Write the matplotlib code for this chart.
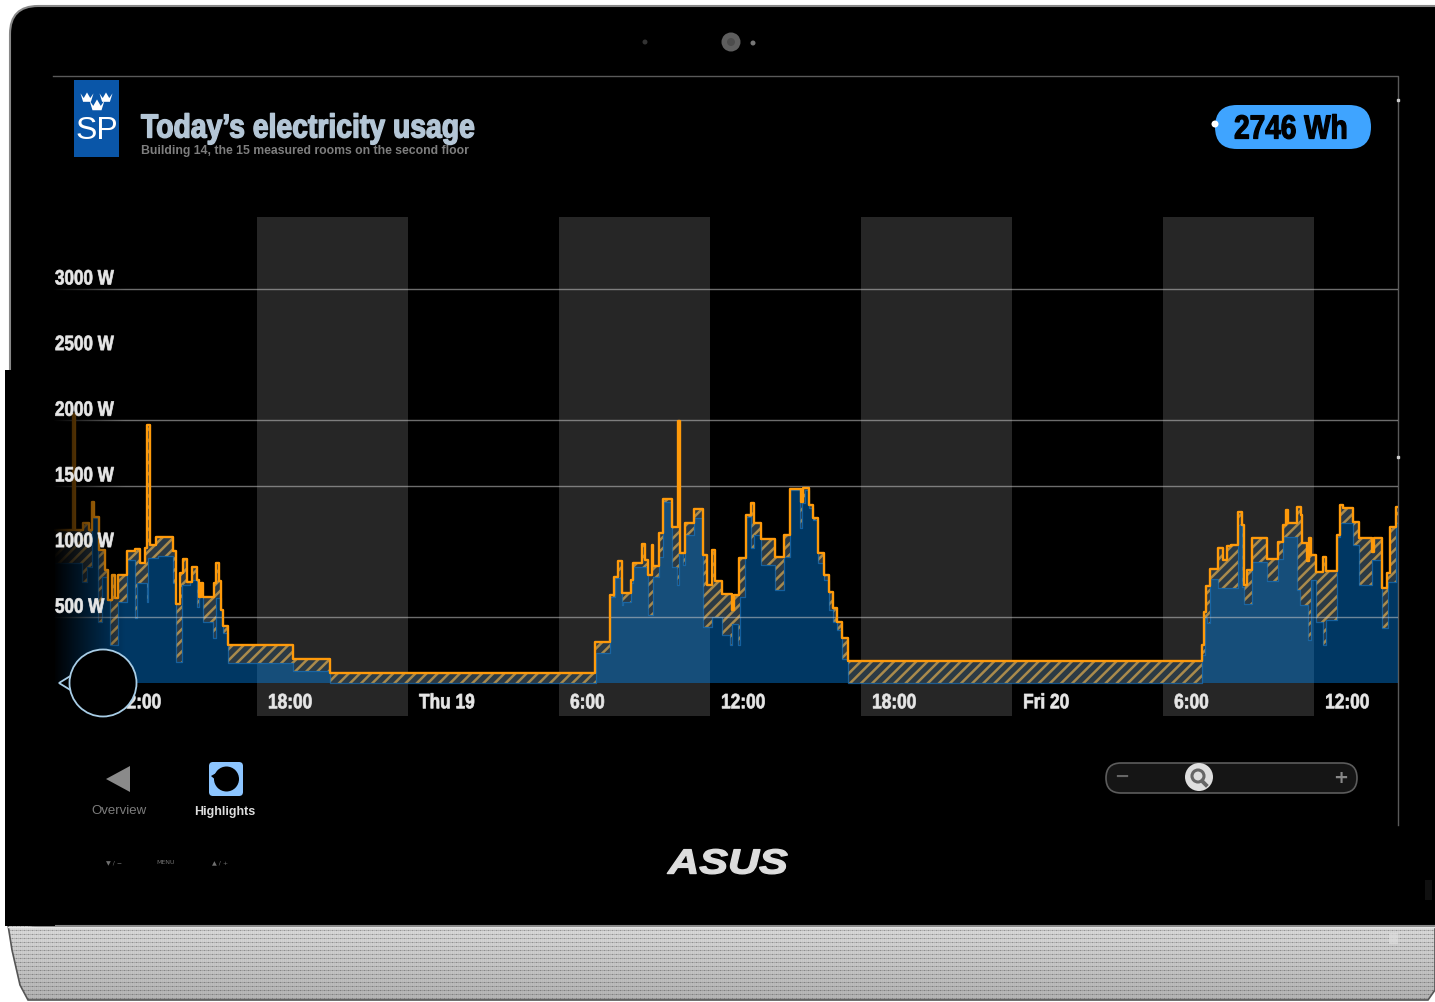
import numpy as np
import matplotlib
matplotlib.use("Agg")
import matplotlib.pyplot as plt
from matplotlib.patches import Circle, FancyBboxPatch, Polygon, Rectangle
from matplotlib.patheffects import AbstractPathEffect
from matplotlib.transforms import Affine2D

W_PX, H_PX = 1435, 1002
SANS = ["Liberation Sans", "DejaVu Sans"]

# hours since Wednesday 00:00, where a step starts, and watts from there on
total_hours = [
    9.97, 10.69, 10.77, 11.09, 11.32, 11.44, 11.52, 11.72, 11.96, 12.08,
    12.24, 12.36, 12.48, 12.83, 13.15, 13.35, 13.55, 13.64, 13.73, 13.99,
    14.66, 14.78, 14.94, 15.06, 15.22, 15.42, 15.62, 15.69, 15.77, 15.85,
    16.29, 16.37, 16.47, 16.57, 16.65, 16.85, 19.43, 20.90, 31.43, 32.02,
    32.18, 32.34, 32.50, 32.86, 32.94, 33.30, 33.41, 33.53, 33.69, 33.75,
    33.97, 34.13, 34.49, 34.73, 34.81, 35.00, 35.36, 35.72, 35.88, 36.08,
    36.20, 36.47, 36.87, 36.93, 37.15, 37.43, 37.63, 37.75, 38.02, 38.58,
    38.94, 39.18, 39.61, 39.69, 39.93, 40.09, 40.29, 40.53, 40.72, 40.88,
    41.04, 41.24, 41.48, 55.54, 55.62, 55.70, 55.86, 56.18, 56.38, 56.54,
    56.70, 56.97, 57.13, 57.21, 57.33, 57.53, 58.13, 58.56, 58.76, 58.90,
    58.96, 59.32, 59.48, 59.52, 59.72, 59.80, 59.88, 60.07, 60.35, 60.47,
    60.91, 61.03, 61.15, 61.54, 61.78, 62.30, 62.36, 62.70, 62.90, 63.02,
    63.25, 63.33,
]
total_w = [
    1165, 2050, 1165, 1219, 1165, 1378, 1264, 1013, 861, 632,
    823, 647, 823, 1005, 1021, 914, 1028, 1965, 1051, 1112,
    1005, 602, 838, 944, 769, 883, 784, 655, 762, 655,
    762, 914, 777, 556, 434, 289, 183, 76, 312, 670,
    807, 929, 685, 784, 914, 1059, 937, 823, 1051, 891,
    1142, 1401, 1188, 1995, 990, 1219, 1325, 975, 746, 1013,
    777, 678, 556, 670, 952, 1279, 1371, 1219, 1097, 960,
    1127, 1477, 1378, 1485, 1356, 1257, 990, 823, 693, 571,
    465, 343, 168, 289, 541, 739, 868, 1028, 937, 1043,
    1051, 1302, 1203, 746, 861, 1104, 944, 1074, 1203, 1318,
    1219, 1340, 1279, 1066, 929, 1104, 975, 845, 960, 853,
    1127, 1356, 1333, 1226, 1104, 998, 1104, 724, 838, 1188,
    1340, 1340,
]
base_hours = [
    10.09, 11.05, 11.25, 11.44, 11.68, 11.84, 12.04, 12.16, 12.48, 12.83,
    13.15, 13.23, 13.63, 13.67, 14.07, 14.66, 14.78, 15.02, 15.34, 15.62,
    15.69, 15.85, 16.25, 16.37, 16.61, 16.65, 16.85, 19.43, 20.90, 31.47,
    32.02, 32.22, 32.50, 32.54, 32.86, 32.94, 33.53, 33.73, 33.97, 34.13,
    34.49, 34.69, 34.77, 34.92, 35.00, 35.36, 35.72, 36.08, 36.47, 36.79,
    36.87, 37.11, 37.19, 37.39, 37.63, 37.75, 38.02, 38.58, 38.94, 39.18,
    39.57, 39.65, 39.77, 39.93, 40.09, 40.29, 40.53, 40.72, 40.88, 41.04,
    41.24, 41.48, 55.54, 55.66, 55.74, 55.86, 56.18, 56.97, 57.13, 57.21,
    57.53, 58.13, 58.56, 58.76, 59.32, 59.44, 59.76, 59.88, 60.07, 60.35,
    60.47, 60.91, 61.03, 61.54, 61.78, 62.30, 62.70, 62.94, 63.25, 63.33,
]
base_w = [
    914, 769, 883, 1257, 465, 807, 632, 289, 617, 937,
    495, 762, 617, 952, 967, 762, 160, 746, 784, 579,
    655, 465, 343, 647, 442, 381, 152, 91, 0, 228,
    655, 800, 594, 617, 762, 883, 518, 807, 960, 1378,
    883, 746, 1089, 899, 1127, 1257, 426, 503, 366, 289,
    449, 289, 655, 1264, 1028, 1127, 899, 708, 960, 1470,
    1180, 1371, 1470, 1333, 1241, 914, 784, 556, 465, 404,
    183, 0, 213, 495, 457, 792, 724, 1203, 731, 602,
    922, 777, 944, 1112, 708, 594, 327, 784, 465, 289,
    480, 1112, 1219, 1051, 746, 937, 419, 769, 1219, 1219,
]
night_start = [18, 30, 42, 54]
night_end = [24, 36, 48, 60]
grid_w = [500, 1500, 2000, 3000]
y_ticks = [500, 1000, 1500, 2000, 2500, 3000]
y_labels = ["500 W", "1000 W", "1500 W", "2000 W", "2500 W", "3000 W"]
x_ticks = [12, 18, 24, 30, 36, 42, 48, 54, 60]
x_labels = ["12:00", "18:00", "Thu 19", "6:00", "12:00", "18:00", "Fri 20", "6:00", "12:00"]


class Squeeze(AbstractPathEffect):
    """Narrow (or widen) a text around an x pixel, no condensed font is installed.
    stroke thickens the letters a little, the original face is heavier."""

    def __init__(self, anchor_px, factor, stroke=0.0):
        super().__init__()
        self.anchor_px = anchor_px
        self.factor = factor
        self.stroke = stroke

    def draw_path(self, renderer, gc, tpath, affine, rgbFace=None):
        squeeze = Affine2D().translate(-self.anchor_px, 0).scale(self.factor, 1).translate(self.anchor_px, 0)
        gc0 = renderer.new_gc()
        gc0.copy_properties(gc)
        gc0.set_linewidth(self.stroke)
        if rgbFace is not None:
            gc0.set_foreground(rgbFace)
        renderer.draw_path(gc0, tpath, affine + squeeze, rgbFace)
        gc0.restore()


def step_at(hours, values, grid):
    """Value of a post-step series at each grid position."""
    idx = np.searchsorted(hours, grid, side="right") - 1
    return np.asarray(values)[np.clip(idx, 0, len(values) - 1)]


def crown(ax, cx, cy, w):
    h = w * 0.72
    pts = [(cx - w / 2, cy - h * 0.6), (cx - w / 4, cy - h * 0.1), (cx, cy - h * 0.7),
           (cx + w / 4, cy - h * 0.1), (cx + w / 2, cy - h * 0.6), (cx + w * 0.3, cy + h * 0.3),
           (cx - w * 0.3, cy + h * 0.3)]
    ax.add_patch(Polygon(pts, closed=True, fc="white", ec="none"))


def draw_device(bg):
    # speaker bar with its fine perforation, clipped to the curved outline
    rows, cols = 78, W_PX
    tex = np.linspace(0.86, 0.70, rows)[:, None] * np.ones((rows, cols))
    tex[2::4, :] *= 0.86
    tex[:, ::2] *= 0.97
    tex[2::4, ::4] *= 0.82
    outline = Polygon([(8, 925), (W_PX, 925), (W_PX, 990), (1428, 1000), (28, 1000), (20, 985), (12, 950)],
                      closed=True, fc="none", ec="#555555", lw=1.2, zorder=2)
    im = bg.imshow(tex, cmap="gray", vmin=0, vmax=1, extent=(0, W_PX, 1002, 924),
                   interpolation="nearest", aspect="auto", zorder=1)
    bg.add_patch(outline)
    im.set_clip_path(outline)
    bg.add_patch(Rectangle((1389, 933), 9, 11, fc="#dddddd", ec="none", alpha=0.7, zorder=3))

    # black bezel
    bg.add_patch(FancyBboxPatch((40, 36), W_PX, 860, boxstyle="round,pad=30,rounding_size=28",
                                fc="black", ec="#888888", lw=1.5, zorder=4))
    bg.add_patch(Rectangle((5, 370), 50, 556, fc="black", ec="none", zorder=4))
    bg.plot([8, W_PX], [926.5, 926.5], color="#e8e8e8", lw=1, zorder=3)
    bg.add_patch(Rectangle((1425, 880), 7, 20, fc="#101010", ec="none", zorder=5))

    # camera and sensors
    bg.add_patch(Circle((731, 42), 9.5, fc="#5e5e5e", ec="none", zorder=5))
    bg.add_patch(Circle((731, 42), 4, fc="#4c4c4c", ec="none", zorder=6))
    bg.add_patch(Circle((645, 42), 2.5, fc="#333333", ec="none", zorder=5))
    bg.add_patch(Circle((753, 43), 2.5, fc="#777777", ec="none", zorder=5))

    # screen frame
    bg.plot([53, 1398, 1398], [76, 76, 825], color="#5a5a5a", lw=1, zorder=5)
    bg.plot([1398, 1398], [100, 457], ls="none", marker="s", ms=1.5, color="#cccccc", zorder=5)

    bg.text(728, 864, "ASUS", color="#dddddd", fontsize=25, fontweight="bold", style="italic",
            family=SANS, ha="center", va="center", zorder=6, path_effects=[Squeeze(728, 1.24, 1.0)])
    for x, s in zip([114, 166, 220], ["▼ / −", "MENU", "▲ / +"]):
        bg.text(x, 863, s, color="#707070", fontsize=4.5, ha="center", va="center", zorder=6)


def draw_chart(ax):
    ax.set_facecolor("none")
    for spine in ax.spines.values():
        spine.set_visible(False)
    ax.set_xticks([])
    ax.set_yticks([])

    for start, end in zip(night_start, night_end):
        ax.axvspan(start, end, color="#262626", lw=0, zorder=1)

    grid = np.union1d(total_hours, base_hours)
    total = step_at(total_hours, total_w, grid)
    base = np.minimum(step_at(base_hours, base_w, grid), total)

    ax.fill_between(grid, base, total, step="post", facecolor="#2b3a45",
                    edgecolor="#a98a4c", hatch="///", linewidth=0, zorder=2)
    ax.fill_between(grid, 0, base, step="post", facecolor="#008cfa", alpha=0.4, linewidth=0, zorder=3)
    ax.step(grid, base, where="post", color="#1b6fb4", lw=0.9, alpha=0.75, zorder=3)
    ax.hlines(grid_w, 0, 1, transform=ax.get_yaxis_transform(), color="#c8c8c8", alpha=0.55, lw=1, zorder=4)
    ax.step(total_hours, total_w, where="post", color="#ff9a0a", lw=1.7, zorder=5)

    # left edge of the curve fades out into black
    fade = np.zeros((1, 256, 4))
    fade[0, :, 3] = np.linspace(1, 0, 256)
    ax.imshow(fade, extent=(9.89, 12.75, -251, 3549), aspect="auto", interpolation="bilinear", zorder=6)
    ax.set_xlim(9.894, 63.33)
    ax.set_ylim(-251, 3549)

    for v, s in zip(y_ticks, y_labels):
        ax.annotate(s, (0, v), xycoords=ax.get_yaxis_transform(), xytext=(1.4, 7.3), textcoords="offset points",
                    color="#e6e6e6", fontsize=15, fontweight="bold", family=SANS, va="center", zorder=7,
                    path_effects=[Squeeze(55, 0.82, 0.5)])
    for h, s in zip(x_ticks, x_labels):
        start_px = 106 + (h - 12) * 25.17 + 11
        ax.annotate(s, (h, 0), xycoords=ax.get_xaxis_transform(), xytext=(7.9, 9.5), textcoords="offset points",
                    color="#e6e6e6", fontsize=15, fontweight="bold", family=SANS, va="center", zorder=7,
                    path_effects=[Squeeze(start_px, 0.83, 0.5)])


def draw_ui(ui):
    # header
    ui.add_patch(Rectangle((74, 80), 45, 77, fc="#0a56a8", ec="none"))
    crown(ui, 87, 99, 13)
    crown(ui, 106, 99, 13)
    crown(ui, 97, 107, 15)
    ui.text(96.5, 131, "SP", color="white", fontsize=23, family=SANS, ha="center", va="center")
    ui.text(141, 129, "Today’s electricity usage", color="#b4c6d6", fontsize=24, fontweight="bold",
            family=SANS, va="center", path_effects=[Squeeze(141, 0.85, 1.0)])
    ui.text(141, 151, "Building 14, the 15 measured rooms on the second floor", color="#7e7e7e", fontsize=8.8,
            fontweight="bold", family=SANS, va="center")

    # energy total
    ui.add_patch(FancyBboxPatch((1237, 127), 112, 0, boxstyle="round,pad=22,rounding_size=22",
                                fc="#3fa4ff", ec="none"))
    ui.add_patch(Circle((1215, 124), 3.5, fc="white", ec="none"))
    ui.text(1291, 130, "2746 Wh", color="black", fontsize=24, fontweight="bold", family=SANS,
            ha="center", va="center", path_effects=[Squeeze(1291, 0.84, 0.9)])

    # speech-bubble marker on the time axis
    tail = Polygon([(72, 675), (59, 683), (72, 691)], closed=False, fc="black", ec="#a8cde6", lw=1.3)
    ui.add_patch(tail)
    ui.add_patch(Circle((103, 683), 33.5, fc="black", ec="#a8cde6", lw=1.3))

    # bottom buttons
    ui.add_patch(Polygon([(106, 779), (130, 766), (130, 792)], closed=True, fc="#8a8a8a", ec="none"))
    ui.text(118.5, 811, "Overview", color="#7d7d7d", fontsize=9.5, family=SANS, ha="center", va="center")
    ui.add_patch(FancyBboxPatch((213, 766), 26, 26, boxstyle="round,pad=4,rounding_size=4", fc="#8cc5ff", ec="none"))
    ui.add_patch(Polygon([(211, 776), (218, 772), (218, 782)], closed=True, fc="black", ec="none"))
    ui.add_patch(Circle((226.5, 779), 12.5, fc="black", ec="none"))
    ui.text(225, 811.5, "Highlights", color="#dddddd", fontsize=9, fontweight="bold", family=SANS,
            ha="center", va="center")

    # zoom slider
    ui.add_patch(FancyBboxPatch((1121, 778), 221, 0, boxstyle="round,pad=15,rounding_size=15",
                                fc="#151515", ec="#5c5c5c", lw=1.2))
    ui.text(1122, 777, "−", color="#666666", fontsize=13, fontweight="bold", ha="center", va="center")
    ui.text(1341, 778, "+", color="#888888", fontsize=13, fontweight="bold", ha="center", va="center")
    ui.add_patch(Circle((1199, 777), 14, fc="#dedede", ec="none"))
    ui.add_patch(Circle((1198, 776), 6, fc="none", ec="#666666", lw=2.2))
    ui.plot([1202, 1206], [781, 785], color="#666666", lw=2.8)


def main():
    fig = plt.figure(figsize=(W_PX / 100, H_PX / 100), dpi=100, facecolor="white")
    plt.rcParams["hatch.linewidth"] = 1.8

    bg = fig.add_axes([0, 0, 1, 1], zorder=0)
    bg.axis("off")
    draw_device(bg)
    bg.set_xlim(0, W_PX)
    bg.set_ylim(H_PX, 0)

    ax = fig.add_axes([53 / W_PX, 1 - 716 / H_PX, (1398 - 53) / W_PX, (716 - 217) / H_PX], zorder=1)
    draw_chart(ax)

    ui = fig.add_axes([0, 0, 1, 1], zorder=2)
    ui.set_xlim(0, W_PX)
    ui.set_ylim(H_PX, 0)
    ui.axis("off")
    draw_ui(ui)

    fig.savefig("out.png", dpi=100, facecolor="white")


main()
